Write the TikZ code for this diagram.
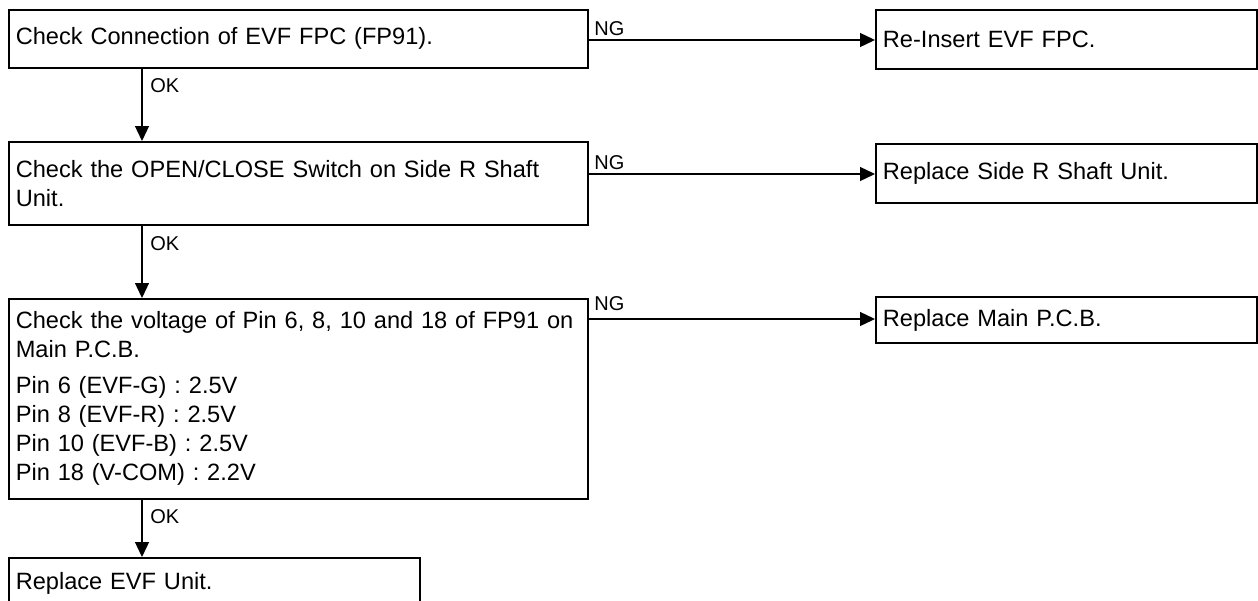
\documentclass[tikz,border=0pt]{standalone}
\usepackage{fontspec}
\setmainfont{Liberation Sans}
\usetikzlibrary{arrows.meta,positioning}
\tikzset{
  box/.style={draw, line width=0.8pt, rectangle, anchor=north west, inner xsep=3.5pt, inner ysep=0pt,
    align=left, font=\fontsize{11.8}{14.5}\selectfont},
  rbox/.style={box, line width=0.95pt},
  flow/.style={line width=0.65pt, -{Triangle[length=7.5pt,width=7pt]}},
  lbl/.style={inner sep=0pt, anchor=base west, font=\fontsize{10}{12}\selectfont}
}
\begin{document}
\begin{tikzpicture}[x=0.5pt,y=-0.5pt]
\clip (0,0) rectangle (1258,600);
\fill[white] (0,0) rectangle (1258,600);
% left column
\node[box, minimum width=289.5pt, minimum height=29pt, text width=282.5pt] (b1) at (8,9)
  {Check Connection of EVF FPC (FP91).};
\node[box, minimum width=289.5pt, minimum height=41.5pt, text width=282.5pt] (b2) at (8,141)
  {Check the OPEN/CLOSE Switch on Side R Shaft\\Unit.};
\node[box, minimum width=289.5pt, minimum height=100pt, text width=282.5pt] (b3) at (8,298)
  {Check the voltage of Pin 6, 8, 10 and 18 of FP91 on\\Main P.C.B.\\[3.5pt]
   Pin 6 (EVF-G) : 2.5V\\Pin 8 (EVF-R) : 2.5V\\Pin 10 (EVF-B) : 2.5V\\Pin 18 (V-COM) : 2.2V};
\node[box, minimum width=205.5pt, minimum height=26pt, text width=198.5pt] (b4) at (8,557)
  {Replace EVF Unit.};
% right column
\node[rbox, minimum width=190.5pt, minimum height=29.5pt, text width=183.5pt] (r1) at (875,9)
  {Re-Insert EVF FPC.};
\node[rbox, minimum width=190.5pt, minimum height=29.5pt, text width=183.5pt] (r2) at (875,143)
  {Replace Side R Shaft Unit.};
\node[rbox, minimum width=190.5pt, minimum height=23pt, text width=183.5pt] (r3) at (875,296)
  {Replace Main P.C.B.};
% helper coordinates
\coordinate (ax) at (142,0);
\coordinate (ng1) at (0,40);
\coordinate (ng2) at (0,174);
\coordinate (ng3) at (0,319);
% OK arrows
\draw[flow] (b1.south -| ax) -- (b2.north -| ax);
\draw[flow] (b2.south -| ax) -- (b3.north -| ax);
\draw[flow] (b3.south -| ax) -- (b4.north -| ax);
% NG arrows
\draw[flow] (b1.east |- ng1) -- (r1.west |- ng1);
\draw[flow] (b2.east |- ng2) -- (r2.west |- ng2);
\draw[flow] (b3.east |- ng3) -- (r3.west |- ng3);
% labels
\node[lbl] (ok1) at (150,92) {OK};
\node[lbl] (ok2) at (150,250) {OK};
\node[lbl] (ok3) at (150,523) {OK};
\node[lbl] (n1) at (594,35) {NG};
\node[lbl] (n2) at (594,169) {NG};
\node[lbl] (n3) at (594,310) {NG};
\end{tikzpicture}
\end{document}
